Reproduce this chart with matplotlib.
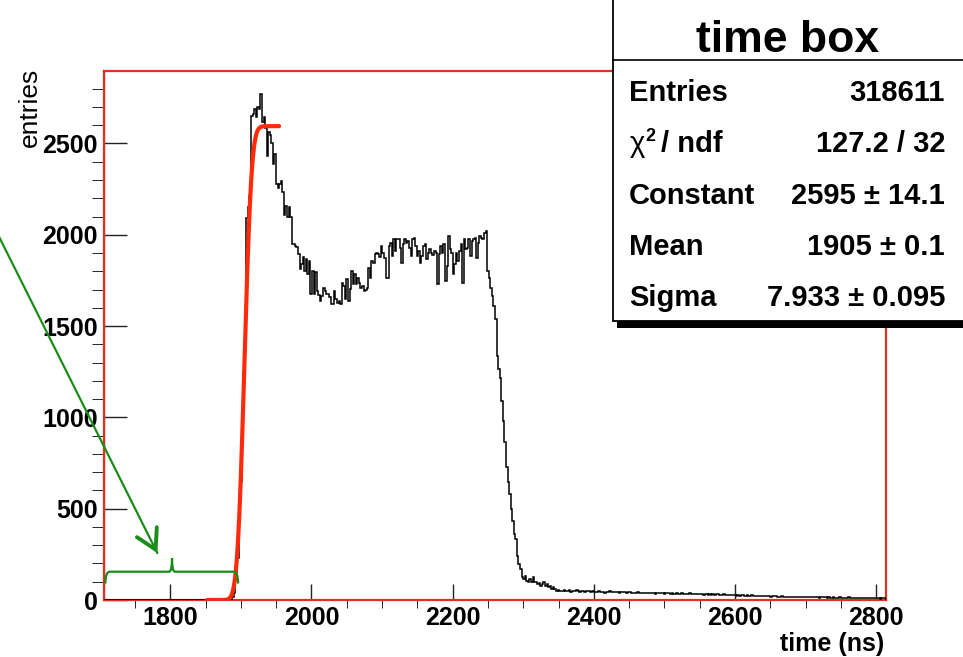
import math
import numpy as np
import matplotlib
matplotlib.use("Agg")
import matplotlib.pyplot as plt
from matplotlib.patches import Rectangle, PathPatch
from matplotlib.path import Path

plt.rcParams['font.family'] = ['Liberation Sans', 'DejaVu Sans']

# ---------------- histogram binning ----------------
bin_lo, bin_hi, n_bins = 1706.0, 2814.0, 500
first_filled_bin = 82

# leading edge of the time box
counts_rise = [15, 40, 110, 230, 420, 650, 950, 1250, 1600, 2090, 2150, 2210]
# first peak and its fall-off
counts_peak = [2650, 2660, 2690, 2645, 2700, 2690, 2770, 2620, 2647, 2587,
               2429, 2565, 2549, 2505, 2385, 2440, 2276, 2259, 2276, 2292,
               2237, 2111, 2155, 2095, 2150, 2095, 1947, 1947, 1940, 1931,
               1893, 1811, 1838, 1876, 1800, 1865, 1783, 1854, 1674, 1800,
               1674, 1794, 1690, 1670]
# valley
counts_dip = [1637, 1665, 1711, 1692, 1674, 1674, 1660, 1619, 1619, 1692,
              1647, 1628, 1637, 1619, 1738, 1719, 1647, 1756, 1637, 1701,
              1801, 1729, 1783, 1729, 1765, 1738, 1711, 1719, 1692, 1700,
              1711, 1820, 1765, 1856, 1847, 1893, 1902, 1893, 1880, 1939,
              1902, 1875, 1765, 1765, 1939, 1957, 1884, 1975, 1911, 1975,
              1975, 1930]
# plateau
counts_plateau = [1847, 1947, 1975, 1956, 1966, 1930, 1883, 1975, 1984, 1938,
                  1883, 1911, 1847, 1883, 1938, 1947, 1865, 1902, 1920, 1902,
                  1890, 1911, 1902, 1729, 1893, 1938, 1902, 1947, 1747, 1829,
                  1993, 1920, 1902, 1783, 1838, 1902, 1856, 1911, 1947, 1738,
                  1975, 1920, 1929, 1975, 1883, 1966, 1975, 1984, 1874, 1956,
                  1993, 1984, 1975, 2011, 2020]
# trailing edge
counts_fall = [1801, 1765, 1710, 1665, 1610, 1537, 1337, 1264, 1218, 1090,
               981, 863, 726, 644, 580, 498, 434, 361, 334, 243,
               197, 170, 124, 115, 133, 106, 97, 115, 97, 124,
               97, 100, 90, 95]
# late tail
counts_tail = [78, 87, 96, 78, 87, 69, 78, 60, 69, 60, 51, 55, 51,
               52, 48, 55, 47, 50, 53, 46, 49, 51, 47, 54, 50, 45, 48, 52, 46, 49, 47, 51, 44, 48,
               46, 43, 45, 47, 42, 44, 46, 41, 45, 43, 47, 44, 42, 45, 43, 46, 41, 44, 42, 45, 43, 40, 44, 42,
               41, 38, 40, 37, 42, 39, 36, 40, 38, 41, 37, 39, 36, 40, 38, 35, 39, 37, 40, 36, 38, 35, 37, 36,
               36, 34, 37, 33, 35, 38, 34, 32, 36, 33, 35, 31, 34, 36, 32, 33, 35, 31, 34, 32, 33,
               33, 30, 35, 31, 29, 34, 30, 32, 28, 31, 33, 29, 30, 27, 31, 28, 30, 26, 29, 27, 28,
               27, 24, 26, 23, 25, 27, 22, 24, 26, 23, 21, 25, 23, 24, 22, 20, 23, 21, 24, 22, 20, 23, 21, 19, 22, 20,
               20, 18, 19, 17, 20, 16, 18, 19, 17, 15, 18, 16, 19, 17, 15, 18, 16, 17, 15, 18, 16, 14, 17, 15, 16, 14, 17, 15, 13, 16, 14, 15,
               14, 12, 15, 13, 11, 14, 12, 13, 11, 14, 12, 10, 13, 11, 12, 14, 10, 12, 11, 13, 10, 12, 11, 9, 12, 10, 11, 13, 9, 11, 10, 12, 9, 11, 10, 8, 11, 9, 10]

# ---------------- edge fit ----------------
fit_constant = 2595.0
fit_mean = 1905.0
fit_sigma = 7.933
fit_lo, fit_hi = 1852.0, 1954.0

stats_title = "time box"
stats_labels = ["Entries", None, "Constant", "Mean", "Sigma"]
stats_values = ["318611", "127.2 / 32", "2595 ± 14.1", "1905 ± 0.1", "7.933 ± 0.095"]

x_major = [1800, 2000, 2200, 2400, 2600, 2800]
y_major = [0, 500, 1000, 1500, 2000, 2500]

# ---------------- assemble ----------------
filled = counts_rise + counts_peak + counts_dip + counts_plateau + counts_fall + counts_tail
counts = np.zeros(n_bins)
counts[first_filled_bin:first_filled_bin + len(filled)] = filled
edges = np.linspace(bin_lo, bin_hi, n_bins + 1)

W, H = 963, 657
fig = plt.figure(figsize=(W / 100, H / 100), dpi=100)
ax = fig.add_axes([104 / W, 1 - 600 / H, (886 - 104) / W, (600 - 71) / H])

ax.stairs(counts, edges, color='black', lw=1.1, baseline=0, zorder=3)

xf = np.linspace(fit_lo, fit_hi, 400)
erf = np.vectorize(math.erf)
yf = 0.5 * fit_constant * (1 + erf((xf - fit_mean) / (fit_sigma * math.sqrt(2))))
ax.plot(xf, yf, color='#ff2a0a', lw=3.0, solid_capstyle='round', zorder=4)

ax.set_xlim(bin_lo, bin_hi)
ax.set_ylim(0, 2897)

frame_red = '#e0301e'
for sp in ax.spines.values():
    sp.set_color(frame_red)
    sp.set_linewidth(1.6)
ax.axhline(0, color='black', lw=0.9, zorder=2.5)
ax.axvline(bin_lo, color='#5a1a10', lw=0.9, zorder=2.5)

ax.set_xticks(x_major)
ax.set_xticks(np.arange(1750, 2815, 50), minor=True)
ax.set_yticks(y_major)
ax.set_yticks(np.arange(100, 2900, 100), minor=True)
ax.tick_params(direction='in', colors='#222222', width=1.0, labelsize=18)
ax.tick_params(axis='y', which='major', length=16.5, pad=4.5)
ax.tick_params(axis='y', which='minor', length=8.6)
ax.tick_params(axis='x', which='major', length=11.5, pad=4)
ax.tick_params(axis='x', which='minor', length=5.8)
ax.tick_params(labelcolor='black')
for lab in ax.get_xticklabels() + ax.get_yticklabels():
    lab.set_fontweight('bold')

# annotation: bracket over the empty early range and an arrow pointing at it
green = '#1a8c1a'
br_y, br_end, br_top = 155, 90, 230
xl, xr, xc = 1708.0, 1896.0, 1802.4
verts = [(xl, br_end), (xl, br_y), (xl + 6, br_y),
         (xc - 4, br_y),
         (xc, br_y), (xc, br_top),
         (xc, br_y), (xc + 4, br_y),
         (xr - 6, br_y),
         (xr, br_y), (xr, br_end)]
codes = [Path.MOVETO, Path.CURVE3, Path.CURVE3,
         Path.LINETO,
         Path.CURVE3, Path.CURVE3,
         Path.CURVE3, Path.CURVE3,
         Path.LINETO,
         Path.CURVE3, Path.CURVE3]
ax.add_patch(PathPatch(Path(verts, codes), fill=False, edgecolor=green, lw=1.6,
                       clip_on=False, zorder=5))

tail_pt, tip_pt = (1552.0, 2030.0), (1781.6, 257.0)
ax.annotate('', xy=tip_pt, xytext=tail_pt, annotation_clip=False,
            arrowprops=dict(arrowstyle='-', color=green, lw=1.6,
                            shrinkA=0, shrinkB=0))
near_tip = (tip_pt[0] + 0.02 * (tail_pt[0] - tip_pt[0]),
            tip_pt[1] + 0.02 * (tail_pt[1] - tip_pt[1]))
ax.annotate('', xy=tip_pt, xytext=near_tip, annotation_clip=False,
            arrowprops=dict(arrowstyle='->,head_length=0.7,head_width=0.4',
                            mutation_scale=20, color=green, lw=2.8,
                            shrinkA=0, shrinkB=0))

# axis titles
fig.text(884 / W, 1 - 651 / H, 'time (ns)', ha='right', va='baseline',
         fontsize=18, fontweight='bold')
fig.text(30 / W, 1 - 68 / H, 'entries', rotation=90, ha='center', va='top',
         fontsize=19)

# ---------------- statistics box ----------------
ov = fig.add_axes([0, 0, 1, 1], zorder=10)
ov.set_xlim(0, W)
ov.set_ylim(H, 0)
ov.axis('off')
ov.patch.set_alpha(0)
ov.add_patch(Rectangle((617, -10), 400, 338, facecolor='black', edgecolor='none'))
ov.add_patch(Rectangle((613, -10), 400, 331, facecolor='white', edgecolor='black', lw=1.3))
ov.plot([613, W], [60, 60], color='black', lw=1.2)
ov.text(788, 52, stats_title, ha='center', va='baseline', fontsize=32, fontweight='bold')

row_base = [101, 152, 204, 255, 306]
x_label = 629
for lab, val, yb in zip(stats_labels, stats_values, row_base):
    if lab is not None:
        ov.text(x_label, yb, lab, ha='left', va='baseline', fontsize=21, fontweight='bold')
    else:
        ov.text(x_label + 1, yb, 'χ', ha='left', va='baseline', fontsize=21)
        ov.text(x_label + 16, yb - 11, '2', ha='left', va='baseline', fontsize=13, fontweight='bold')
        ov.text(x_label + 32, yb, '/ ndf', ha='left', va='baseline', fontsize=21, fontweight='bold')
    ov.text(945, yb, val, ha='right', va='baseline', fontsize=21, fontweight='bold')

fig.savefig('out.png', dpi=100)
